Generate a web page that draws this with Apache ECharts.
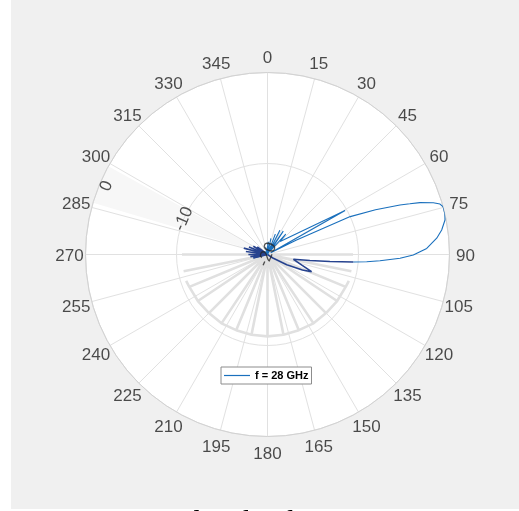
<!DOCTYPE html>
<html><head><meta charset="utf-8">
<script src="https://cdn.jsdelivr.net/npm/echarts/dist/echarts.min.js"></script>
<style>html,body{margin:0;padding:0;background:#fff;}#c{width:519px;height:511px;}</style>
</head><body><div id="c"></div>
<script>
// ---- data ----
const angleTickValues = [0,15,30,45,60,75,90,105,120,135,150,165,180,195,210,225,240,255,270,285,300,315,330,345];
const angleTickLabels = ['0','15','30','45','60','75','90','105','120','135','150','165','180','195','210','225','240','255','270','285','300','315','330','345'];
const radiusTickValues = [-20, -10, 0];
const radiusTickLabels = ['-20', '-10', '0'];
const seriesName = 'f = 28 GHz';
const captionText = 'Normalized radiation pattern';

// main pattern (angle in degrees, magnitude in dB)
const patternAngles = [0,4,8,12,16,21,24,27,30,34,38,42,44,60.5,62,63.5,65.4,67.5,69.5,70.4,71.2,72.65,73.7,74.8,77,79,82,84.5,87.8,90.2,91.6,93.15,94.15,95.0,96.4,98,100.5,107.4,111.3,114,118,123,130,160,200,230,250,256,259,263,266,270,273,278,281,285,288,292,295,300,303,307,311,320,332,345,352,360];
const patternDb     = [-19.0,-18.6,-20,-18.2,-20,-17.6,-20,-17.0,-19.5,-16.9,-19.5,-17.0,-18.0,-10.2,-19.6,-16.5,-10.0,-7.15,-4.46,-3.4,-2.3,-0.91,-0.25,0,0,-0.13,-0.67,-1.32,-2.49,-3.98,-5.43,-7.62,-9.07,-10.54,-13.1,-15.3,-17.1,-16.0,-14.8,-15.8,-17.6,-19.3,-20,-20,-19.8,-20,-20,-18.4,-20,-18.1,-20,-17.9,-20,-17.6,-20,-17.3,-20,-17.8,-20,-18.2,-20,-18.6,-20,-19.6,-20,-19.2,-20,-19.0];

// faded back-hemisphere trace
const backSpokeAngles = [90,101.25,112.5,123.75,135,146.25,157.5,168.75,180,191.25,202.5,213.75,225,236.25,247.5,258.75,270];
const backSpokeDb     = [-10.6,-10.6,-10.7,-10.8,-10.9,-10.9,-11.0,-11.0,-11.0,-11.0,-11.0,-10.9,-10.9,-10.8,-10.7,-10.6,-10.6];
const backArcAngles = [108,112.5,123.75,135,146.25,157.5,168.75,180,191.25,202.5,213.75,225,236.25,247.5,252];
const backArcDb     = [-10.6,-10.7,-10.8,-10.9,-10.9,-11.0,-11.0,-11.0,-11.0,-11.0,-10.9,-10.9,-10.8,-10.7,-10.6];

// ---- styles / layout ----
const CX = 267.5, CY = 254.5, R = 182, LABEL_R = 198;
const blue = '#1a70bd', darkBlue = '#27438f';
const darkRanges = [[95.0, 130], [252, 315]];
const labelAngle = 293;
const labelBand = [286.5, 299];

function isDark(a){ return darkRanges.some(r => a >= r[0] && a <= r[1]); }
const segs = [];
let cur = null;
for (let i = 0; i < patternAngles.length; i++) {
  const pt = [patternDb[i], patternAngles[i]];
  const d = isDark(patternAngles[i]);
  if (!cur) { cur = {dark: d, pts: [pt]}; continue; }
  if (d === cur.dark) { cur.pts.push(pt); }
  else {
    if (d) { cur.pts.push(pt); segs.push(cur); cur = {dark: d, pts: [pt]}; }
    else { segs.push(cur); cur = {dark: d, pts: [cur.pts[cur.pts.length-1], pt]}; }
  }
}
segs.push(cur);

const patternSeries = segs.map((s, i) => ({
  name: i === 0 ? seriesName : '_seg' + i,
  type: 'line', coordinateSystem: 'polar', polarIndex: 0, symbol: 'none', showSymbol: false, smooth: false,
  data: s.pts, z: 5, silent: true,
  lineStyle: {color: s.dark ? darkBlue : blue, width: s.dark ? 1.6 : 1.1},
  itemStyle: {color: s.dark ? darkBlue : blue}
}));

const spokeData = [];
backSpokeAngles.forEach((a, i) => { spokeData.push([backSpokeDb[i], a]); spokeData.push([radiusTickValues[0], a]); });
const arcData = backArcAngles.map((a, i) => [backArcDb[i], a]);

const toRad = d => (d - 90) * Math.PI / 180;

const chart = echarts.init(document.getElementById('c'), null, {renderer: 'canvas'});
chart.setOption({
  animation: false,
  backgroundColor: 'transparent',
  textStyle: {fontFamily: 'Liberation Sans, Arial, sans-serif'},
  graphic: [
    {type: 'text', z: -120, left: 113, top: 508, style: {text: captionText, font: '29px "Liberation Serif"', fill: '#000'}},
    {type: 'rect', z: -100, shape: {x: 11, y: 0, width: 508, height: 509}, style: {fill: '#f0f0f0'}},
    {type: 'circle', z: -90, shape: {cx: CX, cy: CY, r: R}, style: {fill: '#ffffff'}},
    {type: 'sector', z: -80, shape: {cx: CX, cy: CY, r0: 0, r: R, startAngle: toRad(labelBand[0]), endAngle: toRad(labelBand[1]), clockwise: true}, style: {fill: '#f7f7f7'}}
  ],
  polar: [{center: [CX, CY], radius: R}, {center: [CX, CY], radius: LABEL_R}],
  angleAxis: [{
    polarIndex: 0,
    type: 'value', min: 0, max: 360, interval: 15, startAngle: 90, clockwise: true,
    axisLine: {show: true, lineStyle: {color: '#d2d2d2', width: 1}},
    axisTick: {show: false},
    splitLine: {show: true, lineStyle: {color: '#e1e1e1', width: 1}},
    axisLabel: {show: false}
  }, {
    polarIndex: 1, show: false,
    type: 'value', min: 0, max: 360, interval: 15, startAngle: 90, clockwise: true
  }],
  radiusAxis: [{
    polarIndex: 0,
    type: 'value', min: radiusTickValues[0], max: radiusTickValues[radiusTickValues.length-1], interval: 10,
    axisLine: {show: false}, axisTick: {show: false}, axisLabel: {show: false},
    splitLine: {show: true, lineStyle: {color: '#e1e1e1', width: 1}}
  }, {
    polarIndex: 1, show: false, type: 'value', min: 0, max: 1
  }],
  legend: {
    data: [{name: seriesName, icon: 'rect'}], left: 221, top: 367, orient: 'horizontal',
    padding: [2, 3, 2, 3], itemWidth: 26, itemHeight: 1.2, itemGap: 0,
    backgroundColor: '#ffffff', borderColor: '#8c8c8c', borderWidth: 1, borderRadius: 0,
    selectedMode: false,
    textStyle: {fontFamily: 'Liberation Sans', fontWeight: 'bold', fontSize: 11, color: '#000', lineHeight: 13}
  },
  series: [
    {type: 'line', coordinateSystem: 'polar', polarIndex: 0, symbol: 'none', data: spokeData, z: 2, silent: true,
     lineStyle: {color: '#e0e0e0', width: 2.6}},
    {type: 'line', coordinateSystem: 'polar', polarIndex: 0, symbol: 'none', data: arcData, z: 2, silent: true,
     lineStyle: {color: '#e0e0e0', width: 2.6}},
    ...patternSeries,
    {type: 'scatter', coordinateSystem: 'polar', polarIndex: 0, symbolSize: 1, z: 8, silent: true,
     itemStyle: {color: 'rgba(0,0,0,0)'},
     data: radiusTickValues.map((v, i) => ({
       value: [v, labelAngle],
       label: {show: true, formatter: radiusTickLabels[i], position: 'inside', rotate: 67,
         fontSize: 17, color: '#262626', fontFamily: 'Liberation Sans',
         offset: i === radiusTickValues.length - 1 ? [0, 7] : [0, 0]}
     }))},
    {type: 'scatter', coordinateSystem: 'polar', polarIndex: 1, symbolSize: 1, z: 8, silent: true,
     itemStyle: {color: 'rgba(0,0,0,0)'},
     data: angleTickValues.map((a, i) => ({
       value: [1, a],
       label: {show: true, formatter: angleTickLabels[i], position: 'inside', offset: [0, 1.5],
         fontSize: 17, color: '#1f1f1f', fontFamily: 'Liberation Sans'}
     }))}
  ]
});
</script></body></html>
